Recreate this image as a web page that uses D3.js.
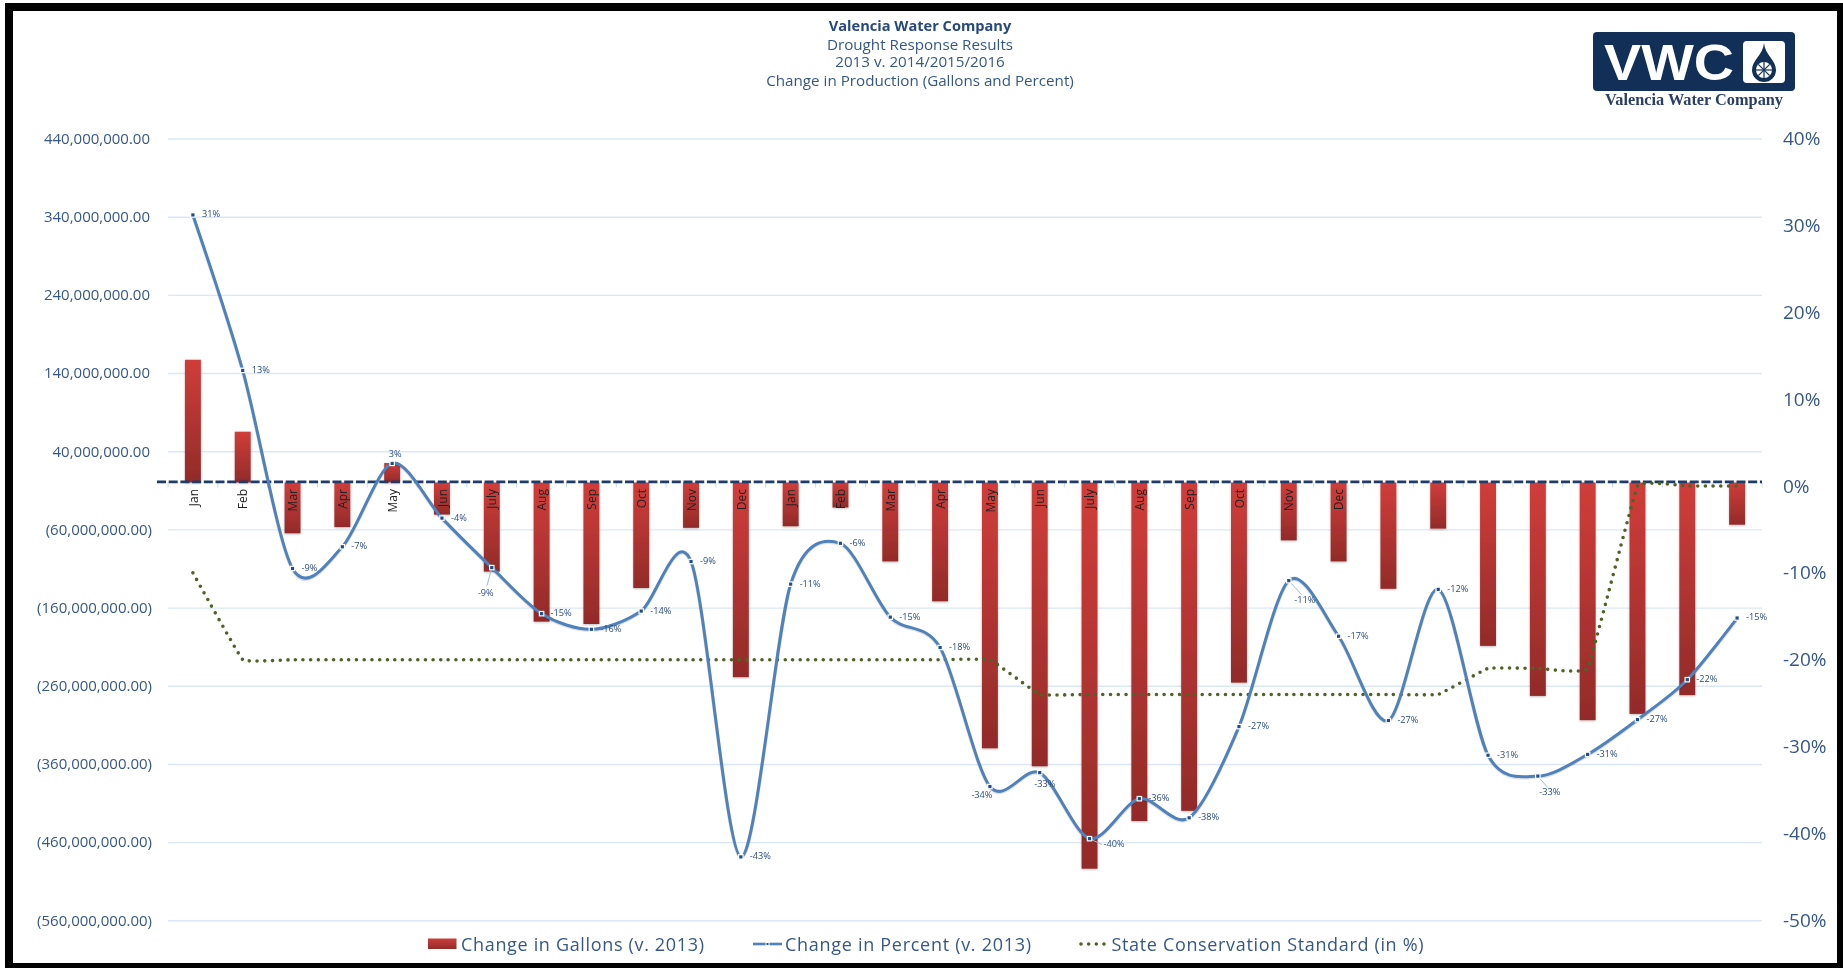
<!DOCTYPE html>
<html><head><meta charset="utf-8">
<script src="https://cdnjs.cloudflare.com/ajax/libs/d3/7.8.5/d3.min.js"></script>
<style>
html,body{margin:0;padding:0;background:#fff;overflow:hidden}
svg{display:block;filter:blur(0.45px)}
text{font-family:"Open Sans",sans-serif}
</style></head><body>
<script>
// ---- data ----
const months = ["Jan","Feb","Mar","Apr","May","Jun","July","Aug","Sep","Oct","Nov","Dec",
                "Jan","Feb","Mar","Apr","May","Jun","July","Aug","Sep","Oct","Nov","Dec",
                "","","","","","","",""];
const gallonsChange = [157,65,-65,-57,25,-41,-114,-178,-181,-135,-58,-249,
                       -56,-32,-101,-152,-340,-363,-494,-433,-420,-256,-74,-101,
                       -136,-59,-209,-273,-304,-296,-272,-54].map(v => v * 1e6);
const percentChange = [31.2,13.3,-9.5,-7,2.6,-3.7,-9.4,-14.7,-16.5,-14.4,-8.7,-42.7,
                       -11.3,-6.6,-15.1,-18.6,-34.6,-33,-40.6,-36,-38.2,-27.7,-10.9,-17.3,
                       -27,-11.9,-31,-33.4,-30.9,-26.9,-22.3,-15.2];
const percentLabels = ["31%","13%","-9%","-7%","3%","-4%","-9%","-15%","-16%","-14%","-9%","-43%",
                       "-11%","-6%","-15%","-18%","-34%","-33%","-40%","-36%","-38%","-27%","-11%","-17%",
                       "-27%","-12%","-31%","-33%","-31%","-27%","-22%","-15%"];
const stateStandard = [-10,-20,-20,-20,-20,-20,-20,-20,-20,-20,-20,-20,
                       -20,-20,-20,-20,-20,-24,-24,-24,-24,-24,-24,-24,
                       -24,-24,-21,-21,-21,0,0,0];
const leftTicks = [440,340,240,140,40,-60,-160,-260,-360,-460,-560].map(v => v * 1e6);
const rightTicks = [40,30,20,10,0,-10,-20,-30,-40,-50];
const titleLines = ["Valencia Water Company","Drought Response Results","2013 v. 2014/2015/2016","Change in Production (Gallons and Percent)"];
const seriesNames = ["Change in Gallons (v. 2013)","Change in Percent (v. 2013)","State Conservation Standard (in %)"];

// ---- layout ----
const W = 1843, H = 968;
const plot = {left:168, right:1762, top:138.5, bottom:920.3};
const textBlue = "#365889";
// data label placement that differs from the default: index -> [dx, dy, anchor, leader]
const labelPlace = {4:[3,-9,"middle"],6:[-6,26,"middle",1],17:[5,12,"middle"],16:[-8,9,"middle"],
                    18:[14,6,"start",1],22:[16,20,"middle",1],27:[12,16,"middle",1]};

const svg = d3.select("body").append("svg").attr("width",W).attr("height",H);
const defs = svg.append("defs");
const grad = defs.append("linearGradient").attr("id","barGrad").attr("x1",0).attr("x2",0).attr("y1",0).attr("y2",1);
grad.append("stop").attr("offset","0%").attr("stop-color","#d03d3a");
grad.append("stop").attr("offset","100%").attr("stop-color","#922b29");

svg.append("rect").attr("width",W).attr("height",H).attr("fill","#fff");
svg.append("path").attr("fill-rule","evenodd").attr("fill","#000")
   .attr("d",`M5 3H${W}V${H}H5Z M13 11V963H1837V11Z`);

const idx = d3.range(months.length);
const x = d3.scaleBand().domain(idx).range([plot.left,plot.right]).paddingInner(.68).paddingOuter(.34);
const cx = i => x(i) + x.bandwidth()/2;
const yL = d3.scaleLinear().domain([-560e6,440e6]).range([plot.bottom,plot.top]);
const yR = d3.scaleLinear().domain([-50,40]).range([plot.bottom,plot.top]);

// gridlines + left axis
const gridG = svg.append("g").attr("transform",`translate(${plot.left},0)`)
  .call(d3.axisLeft(yL).tickValues(leftTicks).tickSize(-(plot.right-plot.left)).tickFormat(""));
gridG.select(".domain").remove();
gridG.selectAll("line").attr("stroke","#dbe7f6").attr("stroke-width",1.4);

const fmt = d3.format(",.2f");
const leftG = svg.append("g").attr("transform","translate(150,0)")
  .call(d3.axisLeft(yL).tickValues(leftTicks).tickSize(0).tickPadding(0)
        .tickFormat(v => v < 0 ? `(${fmt(-v)})` : fmt(v)));
leftG.select(".domain").remove();
leftG.selectAll("text").attr("fill",textBlue).style("font-size","15px").style("font-family",'"Open Sans",sans-serif')
     .attr("x",d => d < 0 ? 2 : 0);

// right axis
const rightG = svg.append("g").attr("transform","translate(1783,0)")
  .call(d3.axisRight(yR).tickValues(rightTicks).tickSize(0).tickPadding(0).tickFormat(v => v + "%"));
rightG.select(".domain").remove();
rightG.selectAll("text").attr("fill",textBlue).style("font-size","19px").style("font-family",'"Open Sans",sans-serif');

// bars
const shadow = defs.append("filter").attr("id","sh").attr("x","-30%").attr("y","-10%").attr("width","160%").attr("height","120%");
shadow.append("feDropShadow").attr("dx",0).attr("dy",1).attr("stdDeviation",1).attr("flood-color","#000").attr("flood-opacity",.25);
svg.append("g").attr("filter","url(#sh)").selectAll("rect").data(idx).join("rect")
  .attr("x",i => x(i)).attr("width",x.bandwidth())
  .attr("y",i => Math.min(yL(gallonsChange[i]),yL(0)))
  .attr("height",i => Math.abs(yL(gallonsChange[i])-yL(0)))
  .attr("fill","url(#barGrad)");

// category axis: dashed baseline, boundary ticks, rotated labels
const step = x.step();
svg.append("g").selectAll("line").data(d3.range(months.length+1)).join("line")
  .attr("x1",i => plot.left + i*step).attr("x2",i => plot.left + i*step)
  .attr("y1",yL(0)).attr("y2",yL(0)+5).attr("stroke","#c6d9f0").attr("stroke-width",1);
svg.append("line").attr("x1",157).attr("x2",plot.right).attr("y1",yL(0)-.6).attr("y2",yL(0)-.6)
  .attr("stroke","#1f3b69").attr("stroke-width",2.9).attr("stroke-dasharray","9 2.7");
svg.append("g").selectAll("text").data(idx.filter(i => months[i])).join("text")
  .attr("transform",i => `translate(${cx(i)+1.5},489) rotate(-90)`)
  .attr("text-anchor","end").attr("dominant-baseline","middle")
  .attr("fill","#222").attr("font-size",12).text(i => months[i]);

// conservation standard
svg.append("path").attr("fill","none").attr("stroke","#4f6228").attr("stroke-width",3.6)
  .attr("stroke-linecap","round").attr("stroke-dasharray","0 7.65")
  .attr("d",d3.line().x(cx).y(i => yR(stateStandard[i])).curve(d3.curveCardinal.tension(.8))(idx));

// percent line
const lineGen = d3.line().x(cx).y(i => yR(percentChange[i])).curve(d3.curveCardinal.tension(.12));
svg.append("path").attr("fill","none").attr("stroke","#000").attr("stroke-opacity",.12).attr("stroke-width",3.6)
  .attr("transform","translate(0,1)").attr("d",lineGen(idx));
svg.append("path").attr("fill","none").attr("stroke","#4f81bd").attr("stroke-width",3).attr("d",lineGen(idx));

// leader lines
const place = i => labelPlace[i] || [9,0,"start"];
svg.append("g").selectAll("line").data(idx.filter(i => place(i)[3])).join("line")
  .attr("x1",cx).attr("y1",i => yR(percentChange[i]))
  .attr("x2",i => cx(i)+place(i)[0]*(place(i)[2]==="start"?.9:.8))
  .attr("y2",i => yR(percentChange[i])+place(i)[1]*(place(i)[2]==="start"?1:.7))
  .attr("stroke","#9dbbe0").attr("stroke-width",1);

// markers
svg.append("g").selectAll("rect").data(idx).join("rect")
  .attr("x",i => cx(i)-2.2).attr("y",i => yR(percentChange[i])-2.2).attr("width",4.4).attr("height",4.4)
  .attr("fill","#1f4e8c").attr("stroke","#fff").attr("stroke-width",1.2);

// data labels
svg.append("g").selectAll("text").data(idx).join("text")
  .attr("x",i => cx(i)+place(i)[0]).attr("y",i => yR(percentChange[i])+place(i)[1])
  .attr("text-anchor",i => place(i)[2]).attr("dominant-baseline","middle")
  .attr("fill","#2a4c82").attr("font-size",9.2).text(i => percentLabels[i]);

// title
const tY = [31,50,67,86];
svg.append("g").selectAll("text").data(titleLines).join("text")
  .attr("x",920).attr("y",(d,i) => tY[i]).attr("text-anchor","middle")
  .attr("fill",(d,i) => i ? textBlue : "#27497c").attr("font-weight",(d,i) => i ? 400 : 700)
  .attr("font-size",(d,i) => i ? 15.2 : 14.6).text(d => d);

// legend
const lg = svg.append("g");
const lgY = 944;
lg.append("rect").attr("x",428).attr("y",lgY-5.5).attr("width",28.5).attr("height",10.5).attr("fill","url(#barGrad)");
lg.append("line").attr("x1",753).attr("x2",782).attr("y1",lgY).attr("y2",lgY).attr("stroke","#4f81bd").attr("stroke-width",2.6);
lg.append("rect").attr("x",766).attr("y",lgY-1.5).attr("width",3).attr("height",3).attr("fill","#1f4e8c").attr("stroke","#fff").attr("stroke-width",1);
lg.append("line").attr("x1",1081).attr("x2",1106).attr("y1",lgY).attr("y2",lgY).attr("stroke","#4f6228")
  .attr("stroke-width",3.6).attr("stroke-linecap","round").attr("stroke-dasharray","0 7.65");
const lgX = [461,785,1111.5], lgLen = [243,246,312];
lg.selectAll("text").data(seriesNames).join("text")
  .attr("x",(d,i) => lgX[i]).attr("y",lgY+6.5).attr("fill",textBlue).attr("font-size",18)
  .attr("textLength",(d,i) => lgLen[i]).attr("lengthAdjust","spacing").text(d => d);

// logo
const logo = svg.append("g");
logo.append("rect").attr("x",1593).attr("y",32).attr("width",202).attr("height",59).attr("rx",4).attr("fill","#122f57");
logo.append("text").attr("x",1604).attr("y",80).attr("fill","#fff").attr("font-weight",700)
  .style("font-family",'"Liberation Sans",sans-serif').attr("font-size",50)
  .attr("textLength",130).attr("lengthAdjust","spacingAndGlyphs").text("VWC");
logo.append("rect").attr("x",1743).attr("y",41).attr("width",42).attr("height",42).attr("rx",4).attr("fill","#fff");
logo.append("path").attr("fill","#122f57")
  .attr("d","M1764 43 C1765 55 1776 60 1776 70 A12 12 0 0 1 1752 70 C1752 60 1763 55 1764 43Z");
logo.append("circle").attr("cx",1764).attr("cy",70).attr("r",8).attr("fill","#fff");
logo.append("g").selectAll("line").data(d3.range(4)).join("line")
  .attr("x1",d => 1764-8*Math.cos(d*Math.PI/4)).attr("x2",d => 1764+8*Math.cos(d*Math.PI/4))
  .attr("y1",d => 70-8*Math.sin(d*Math.PI/4)).attr("y2",d => 70+8*Math.sin(d*Math.PI/4))
  .attr("stroke","#122f57").attr("stroke-width",1.2);
logo.append("text").attr("x",1605).attr("y",105).attr("fill","#2a3f63").attr("font-weight",700)
  .style("font-family",'"Liberation Serif",serif').attr("font-size",16.5)
  .attr("textLength",178).attr("lengthAdjust","spacingAndGlyphs").text("Valencia Water Company");
</script>
</body></html>
